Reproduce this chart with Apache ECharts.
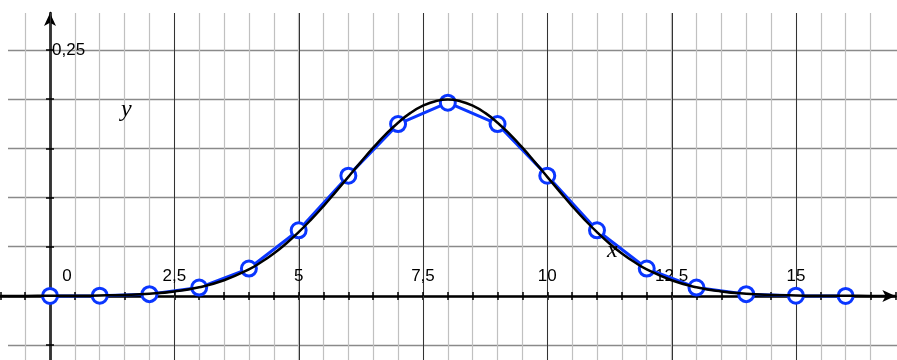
<!DOCTYPE html>
<html>
<head>
<meta charset="utf-8">
<script src="https://cdn.jsdelivr.net/npm/echarts@6/dist/echarts.min.js"></script>
<style>
  html, body { margin: 0; padding: 0; background: #fff; }
  #chart { width: 897px; height: 360px; }
</style>
</head>
<body>
<div id="chart"></div>
<script>
// binomial points (n = 16)
var pointX = [0, 1, 2, 3, 4, 5, 6, 7, 8, 9, 10, 11, 12, 13, 14, 15, 16];
var pointY = [0.0000, 0.0002, 0.0018, 0.0085, 0.0278, 0.0667, 0.1222, 0.1746, 0.1964,
              0.1746, 0.1222, 0.0667, 0.0278, 0.0085, 0.0018, 0.0002, 0.0000];

// smooth black curve, read at 0.5 steps on the tails and 0.25 steps in the middle
var curveX = [-1, -0.5, 0, 0.5, 1, 1.5, 2, 2.5, 3, 3.5, 4,
              4.25, 4.5, 4.75, 5, 5.25, 5.5, 5.75, 6, 6.25, 6.5, 6.75, 7, 7.25, 7.5, 7.75, 8,
              8.25, 8.5, 8.75, 9, 9.25, 9.5, 9.75, 10, 10.25, 10.5, 10.75, 11, 11.25, 11.5, 11.75,
              12, 12.5, 13, 13.5, 14, 14.5, 15, 15.5, 16, 16.5, 17];
var curveY = [0.00001, 0.00002, 0.00007, 0.00018, 0.00044, 0.00102, 0.00222, 0.00455, 0.00876, 0.0159, 0.0270,
              0.0344, 0.0431, 0.0533, 0.0648, 0.0775, 0.0913, 0.1060, 0.1210, 0.1360, 0.1506, 0.1641, 0.1760,
              0.1860, 0.1933, 0.1979, 0.1995,
              0.1979, 0.1933, 0.1860, 0.1760, 0.1641, 0.1506, 0.1360, 0.1210, 0.1060, 0.0913, 0.0775, 0.0648,
              0.0533, 0.0431, 0.0344,
              0.0270, 0.0159, 0.00876, 0.00455, 0.00222, 0.00102, 0.00044, 0.00018, 0.00007, 0.00002, 0.00001];

var xLabelStep = 2.5;
var xLabelMax = 16;
var yLabelValues = [0.25];

var BLUE = '#0a36ff';
var FONT = 'Liberation Sans';

function zip(xs, ys) {
    return xs.map(function (x, i) { return [x, ys[i]]; });
}

function comma(v) {
    return String(v).replace('.', ',');
}

var chart = echarts.init(document.getElementById('chart'), null, {renderer: 'canvas'});

var gridTop = 13, gridH = 381.3;
var noBounds = {outerBoundsMode: 'none', containLabel: false};
var hidden = {axisLine: {show: false}, axisTick: {show: false}, axisLabel: {show: false}, splitLine: {show: false}};
var tickStyle = {color: '#000', width: 1.5};

chart.setOption({
    animation: false,
    backgroundColor: '#fff',
    grid: [
        // 0: horizontal grid lines
        Object.assign({left: 8, right: 0, top: gridTop, height: gridH}, noBounds),
        // 1: main plot (x from -1 to 17, y from -0.1 to 0.2875)
        Object.assign({left: 0.27, width: 895.1, top: gridTop, height: gridH}, noBounds),
        // 2: darker vertical lines every 2.5
        Object.assign({left: -74.06, width: 994.6, top: gridTop, height: gridH}, noBounds),
        // 3: x tick labels, bottom edge on y = 0
        Object.assign({left: 50, width: 847, top: gridTop, height: 283}, noBounds),
        // 4: y ticks and label, top edge on y = 0.25
        Object.assign({left: 50, width: 847, top: 50, height: 344.4}, noBounds),
        // 5: upper half of the x ticks, bottom edge on y = 0
        Object.assign({left: 0.27, width: 895.1, top: gridTop, height: 283}, noBounds)
    ],
    xAxis: [
        Object.assign({gridIndex: 0, type: 'value', min: 0, max: 1}, hidden),
        {
            gridIndex: 1, type: 'value', min: -1, max: 17, interval: 0.5, z: 1.5,
            axisLine: {
                onZero: true, symbol: ['none', 'arrow'], symbolSize: [9, 13],
                lineStyle: {color: '#000', width: 2.5}
            },
            axisTick: {show: true, length: 4, lineStyle: tickStyle},
            axisLabel: {show: false},
            splitLine: {
                show: true, showMinLine: false, showMaxLine: false,
                lineStyle: {color: '#c0c0c0', width: 1.2}
            }
        },
        {
            gridIndex: 2, type: 'value', min: -2.5, max: 17.5, interval: 2.5, z: 1.6,
            axisLine: {show: false}, axisTick: {show: false}, axisLabel: {show: false},
            splitLine: {show: true, lineStyle: {color: '#333', width: 1}}
        },
        {
            gridIndex: 3, type: 'value', min: 0, max: 17.032, interval: xLabelStep, z: 1.7,
            axisLine: {show: false}, axisTick: {show: false}, splitLine: {show: false},
            axisLabel: {
                inside: true, margin: 11, color: '#000', fontSize: 17, fontFamily: FONT,
                showMaxLabel: false,
                formatter: function (v) {
                    if (v > xLabelMax) return '';
                    if (v === 0) return '{z|0}';
                    return comma(v);
                },
                rich: {z: {padding: [0, 0, 0, 34], fontSize: 17, fontFamily: FONT, color: '#000'}}
            }
        },
        Object.assign({gridIndex: 4, type: 'value', min: 0, max: 1}, hidden),
        {
            gridIndex: 5, type: 'value', min: -1, max: 17, interval: 0.5, z: 1.7,
            axisLine: {show: false}, axisLabel: {show: false}, splitLine: {show: false},
            axisTick: {show: true, inside: true, length: 4, lineStyle: tickStyle}
        }
    ],
    yAxis: [
        {
            gridIndex: 0, type: 'value', min: -0.1, max: 0.2875, interval: 0.05,
            axisLine: {show: false}, axisTick: {show: false}, axisLabel: {show: false},
            splitLine: {
                show: true, showMaxLine: false,
                lineStyle: {color: '#8a8a8a', width: 1.4}
            }
        },
        {
            gridIndex: 1, type: 'value', min: -0.1, max: 0.2875, interval: 0.05, z: 1.5,
            axisLine: {
                onZero: true, symbol: ['none', 'arrow'], symbolSize: [9, 13],
                lineStyle: {color: '#000', width: 2.5}
            },
            axisTick: {show: false},
            axisLabel: {show: false},
            splitLine: {show: false}
        },
        Object.assign({gridIndex: 2, type: 'value', min: 0, max: 1}, hidden),
        Object.assign({gridIndex: 3, type: 'value', min: 0, max: 1}, hidden),
        {
            gridIndex: 4, type: 'value', position: 'left', min: -0.1, max: 0.25, interval: 0.05, z: 1.7,
            axisLine: {show: false}, splitLine: {show: false},
            axisTick: {show: true, length: 4, lineStyle: tickStyle},
            axisLabel: {show: false}
        },
        {
            gridIndex: 4, type: 'value', position: 'left', min: -0.1, max: 0.25, interval: 0.05, z: 1.7,
            axisLine: {show: false}, splitLine: {show: false},
            axisTick: {show: true, inside: true, length: 4, lineStyle: tickStyle},
            axisLabel: {
                inside: true, margin: 2, color: '#000', fontSize: 17, fontFamily: FONT,
                formatter: function (v) {
                    for (var i = 0; i < yLabelValues.length; i++) {
                        if (Math.abs(v - yLabelValues[i]) < 1e-9) return comma(yLabelValues[i]);
                    }
                    return '';
                }
            }
        },
        Object.assign({gridIndex: 5, type: 'value', min: 0, max: 1}, hidden)
    ],
    graphic: [
        {
            type: 'text', left: 121, top: 98, z: 10,
            style: {text: 'y', font: 'italic 24px "Liberation Serif"', fill: '#000'}
        },
        {
            type: 'text', left: 607, top: 239, z: 10,
            style: {text: 'x', font: 'italic 24px "Liberation Serif"', fill: '#000'}
        }
    ],
    series: [
        {
            type: 'line', xAxisIndex: 1, yAxisIndex: 1, z: 2,
            data: zip(pointX, pointY), showSymbol: false,
            lineStyle: {color: BLUE, width: 3}
        },
        {
            type: 'scatter', xAxisIndex: 1, yAxisIndex: 1, z: 3,
            data: zip(pointX, pointY), symbol: 'circle', symbolSize: 15,
            itemStyle: {color: '#fff', borderColor: BLUE, borderWidth: 3, opacity: 1}
        },
        {
            type: 'line', xAxisIndex: 1, yAxisIndex: 1, z: 4,
            data: zip(curveX, curveY), smooth: true, showSymbol: false,
            lineStyle: {color: '#000', width: 2.5}
        }
    ]
});
</script>
</body>
</html>
